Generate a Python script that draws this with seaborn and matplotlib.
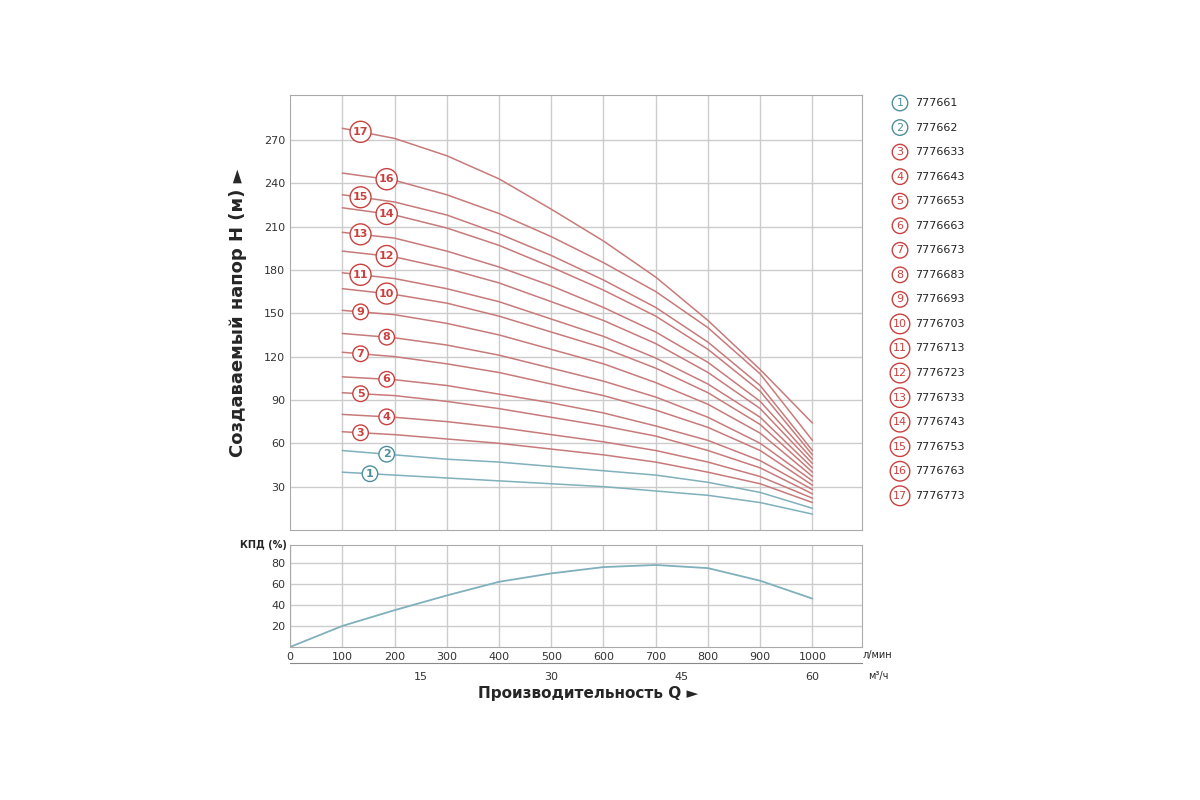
import matplotlib
matplotlib.use('Agg')
import matplotlib.pyplot as plt
import seaborn as sns
import pandas as pd

# Данные
q_lmin = [100, 200, 300, 400, 500, 600, 700, 800, 900, 1000]
models = ['777661', '777662', '7776633', '7776643', '7776653', '7776663', '7776673',
          '7776683', '7776693', '7776703', '7776713', '7776723', '7776733', '7776743',
          '7776753', '7776763', '7776773']
heads = [
    [40, 38, 36, 34, 32, 30, 27, 24, 19, 11],
    [55, 52, 49, 47, 44, 41, 38, 33, 26, 15],
    [68, 66, 63, 60, 56, 52, 47, 40, 32, 19],
    [80, 78, 75, 71, 66, 61, 55, 47, 37, 22],
    [95, 93, 89, 84, 78, 72, 65, 55, 43, 25],
    [106, 104, 100, 94, 88, 81, 72, 62, 48, 28],
    [123, 120, 115, 109, 101, 93, 83, 71, 55, 31],
    [136, 133, 128, 121, 112, 103, 92, 78, 60, 34],
    [152, 149, 143, 135, 125, 115, 102, 87, 67, 37],
    [167, 163, 157, 148, 137, 126, 112, 95, 73, 40],
    [178, 174, 167, 158, 146, 134, 119, 101, 78, 43],
    [193, 189, 181, 171, 158, 145, 129, 109, 84, 46],
    [206, 202, 193, 182, 169, 154, 137, 116, 89, 49],
    [223, 218, 209, 197, 182, 166, 148, 125, 96, 52],
    [232, 227, 218, 205, 190, 173, 154, 130, 100, 55],
    [247, 242, 232, 219, 203, 185, 165, 140, 108, 62],
    [278, 271, 259, 243, 222, 200, 175, 145, 111, 74],
]
label_q = [153, 185, 135, 185, 135, 185, 135, 185, 135, 185, 135, 185, 135, 185, 135, 185, 135]
eff_q = [0, 100, 200, 300, 400, 500, 600, 700, 800, 900, 1000]
eff = [0, 20, 35, 49, 62, 70, 76, 78, 75, 63, 46]

RED = '#c9413f'
RED_LINE = '#c87a7a'
BLUE = '#4f8f9c'
BLUE_LINE = '#7fb0bb'
GRID = '#cccccc'

sns.set_style('white')
plt.rcParams['font.family'] = ['DejaVu Sans']

fig = plt.figure(figsize=(12, 8), dpi=100)
ax = fig.add_axes([0.2417, 0.3375, 0.4767, 0.5437])
axb = fig.add_axes([0.2417, 0.19125, 0.4767, 0.1275])

rows = []
for m, h in zip(models, heads):
    for q, v in zip(q_lmin, h):
        rows.append({'model': m, 'Q': q, 'H': v})
df = pd.DataFrame(rows)
pal = {m: (BLUE_LINE if i < 2 else RED_LINE) for i, m in enumerate(models)}
sns.lineplot(data=df, x='Q', y='H', hue='model', palette=pal, ax=ax, legend=False, linewidth=1.1)

# метки кривых
for i, (h, lq) in enumerate(zip(heads, label_q)):
    c = BLUE if i < 2 else RED
    # значение на кривой в точке метки
    y = h[0] + (h[1] - h[0]) * (lq - 100) / 100
    ax.text(lq, y, str(i + 1), ha='center', va='center', fontsize=8, color=c, fontweight='bold',
            bbox=dict(boxstyle='circle,pad=0.25', fc='white', ec=c, lw=1))

ax.set_xlim(0, 1095)
ax.set_ylim(0, 301)
ax.set_xticks(q_lmin)
ax.set_xticklabels([])
ax.set_yticks(range(30, 271, 30))
ax.tick_params(length=0, labelsize=8, colors='#333333')
ax.grid(True, color=GRID, lw=1)
ax.set_xlabel('')
ax.set_ylabel('Создаваемый напор H (м) ►', fontsize=13, fontweight='bold', labelpad=12)
for s in ax.spines.values():
    s.set_color('#aaaaaa')

sns.lineplot(x=eff_q, y=eff, ax=axb, color=BLUE_LINE, linewidth=1.3)
axb.set_xlim(0, 1095)
axb.set_ylim(0, 97)
axb.set_xticks([0] + q_lmin)
axb.set_yticks([20, 40, 60, 80])
axb.tick_params(length=0, labelsize=8, colors='#333333')
axb.grid(True, color=GRID, lw=1)
for s in axb.spines.values():
    s.set_color('#aaaaaa')
axb.text(-0.005, 1.0, 'КПД (%)', transform=axb.transAxes, fontsize=7, fontweight='bold',
         ha='right', va='center')
axb.text(1.0, -0.08, 'л/мин', transform=axb.transAxes, fontsize=7, ha='left', va='center')

sec = axb.secondary_xaxis(-0.16, functions=(lambda x: x * 0.06, lambda x: x / 0.06))
sec.set_xticks([15, 30, 45, 60])
sec.tick_params(length=0, labelsize=8, colors='#333333', pad=6)
sec.spines['bottom'].set_color('#888888')
axb.text(1.01, -0.28, 'м³/ч', transform=axb.transAxes, fontsize=7, ha='left', va='center')

fig.text(0.49, 0.127, 'Производительность Q ►', fontsize=11, fontweight='bold', ha='center')

# легенда справа
for i, m in enumerate(models):
    c = BLUE if i < 2 else RED
    y = 1 - (103 + i * 24.55) / 800
    fig.text(900 / 1200, y, str(i + 1), ha='center', va='center', fontsize=8, color=c,
             bbox=dict(boxstyle='circle,pad=0.25', fc='white', ec=c, lw=1))
    fig.text(915 / 1200, y, m, ha='left', va='center', fontsize=8, color='#222222')

fig.savefig('out.png', dpi=100)
